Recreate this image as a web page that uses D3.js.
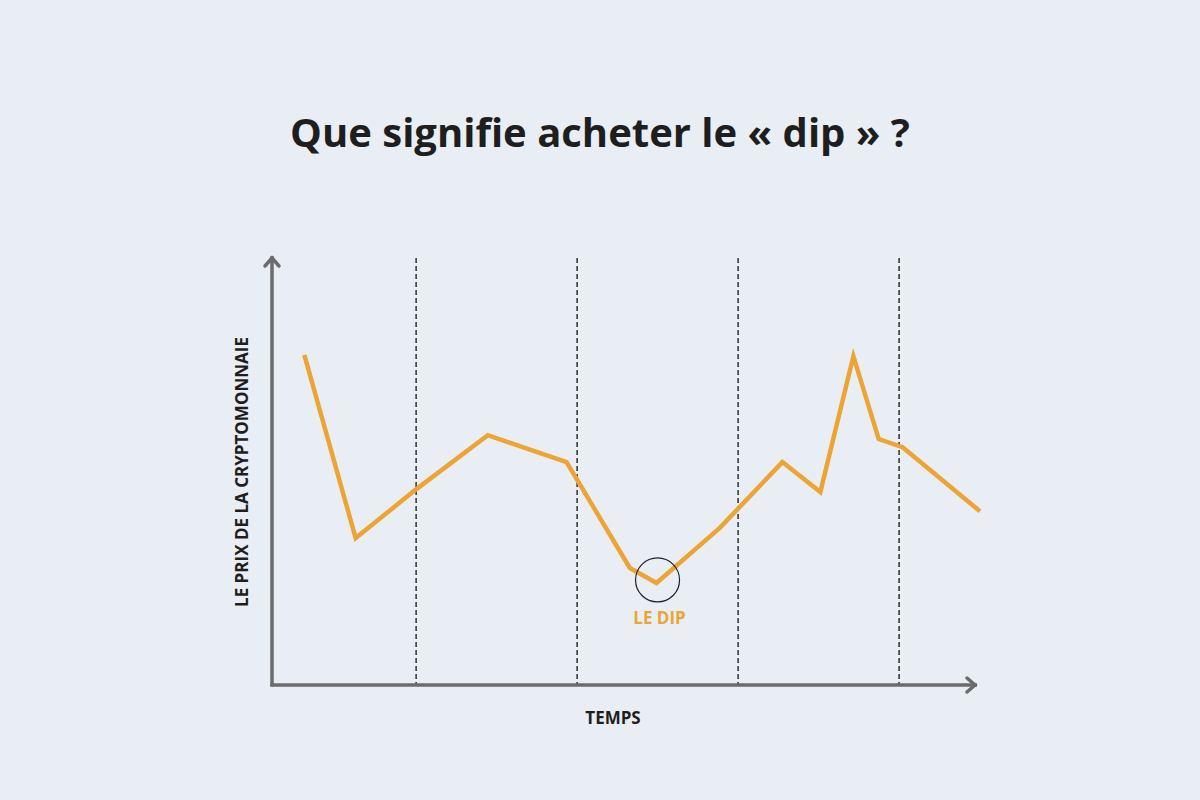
<!DOCTYPE html>
<html><head><meta charset="utf-8">
<script src="https://cdn.jsdelivr.net/npm/d3@7"></script>
<style>body{margin:0;background:#e9eef4;font-family:"Open Sans",Lato,sans-serif}</style>
</head><body><div id="chart"></div>
<script>
// price path over time (arbitrary units)
var times  = [4.6, 11.9, 20.4, 30.7, 41.9, 50.9, 54.7, 63.7, 72.6, 78, 82.7, 86.3, 89.7, 100.7];
var prices = [77.3, 34.4, 45.7, 58.5, 52.2, 27.4, 23.9, 36.8, 52.2, 45.2, 77, 57.6, 55.7, 40.7];
var periods = [20.5, 43.4, 66.3, 89.2];
var dipIndex = 6;

var width = 1200, height = 800;
var svg = d3.select("#chart").append("svg").attr("width", width).attr("height", height);
svg.append("rect").attr("width", width).attr("height", height).attr("fill", "#e9eef4");

var x = d3.scaleLinear().domain([0, 100]).range([272, 975]);
var y = d3.scaleLinear().domain([0, 100]).range([685, 258]);

// title
svg.append("text").attr("x", 600).attr("y", 147).attr("text-anchor", "middle")
	.attr("font-size", 40).attr("font-weight", 700).attr("fill", "#1e1e1e")
	.text("Que signifie acheter le « dip » ?");

// dashed period separators
svg.selectAll(".sep").data(periods).enter().append("line")
	.attr("x1", d => x(d)).attr("x2", d => x(d))
	.attr("y1", y(100)).attr("y2", y(0))
	.attr("stroke", "#111").attr("stroke-width", 1.3).attr("stroke-dasharray", "5,3");

// axes
var axisColor = "#6b6b6b";
svg.append("line").attr("x1", x(0)).attr("x2", x(0)).attr("y1", y(0) + 1.5).attr("y2", y(100) - 2)
	.attr("stroke", axisColor).attr("stroke-width", 3.5);
svg.append("line").attr("x1", x(0) - 1.5).attr("x2", x(100) + 2).attr("y1", y(0)).attr("y2", y(0))
	.attr("stroke", axisColor).attr("stroke-width", 3.5);
svg.append("path").attr("d", `M${x(0)-7},${y(100)+8} L${x(0)},${y(100)} L${x(0)+7},${y(100)+8}`)
	.attr("fill", "none").attr("stroke", axisColor).attr("stroke-width", 3.5).attr("stroke-linecap", "round");
svg.append("path").attr("d", `M${x(100)-8},${y(0)-7} L${x(100)},${y(0)} L${x(100)-8},${y(0)+7}`)
	.attr("fill", "none").attr("stroke", axisColor).attr("stroke-width", 3.5).attr("stroke-linecap", "round");

// price line
var line = d3.line().x((d, i) => x(times[i])).y(d => y(d));
svg.append("path").datum(prices).attr("d", line)
	.attr("fill", "none").attr("stroke", "#eca535").attr("stroke-width", 4.5)
	.attr("stroke-linejoin", "miter");

// dip marker
svg.append("circle").attr("cx", x(times[dipIndex]) + 1).attr("cy", y(prices[dipIndex]) - 3).attr("r", 22)
	.attr("fill", "none").attr("stroke", "#222").attr("stroke-width", 1.2);
svg.append("text").attr("x", x(times[dipIndex]) + 3).attr("y", 624).attr("text-anchor", "middle")
	.attr("font-size", 17).attr("font-weight", 700).attr("fill", "#eca535").text("LE DIP");

// axis labels
svg.append("text").attr("x", 613).attr("y", 724).attr("text-anchor", "middle")
	.attr("font-size", 17).attr("font-weight", 700).attr("fill", "#1e1e1e").text("TEMPS");
svg.append("text").attr("transform", "translate(248,472) rotate(-90)").attr("text-anchor", "middle")
	.attr("font-size", 17).attr("font-weight", 700).attr("fill", "#1e1e1e").text("LE PRIX DE LA CRYPTOMONNAIE");
</script></body></html>
